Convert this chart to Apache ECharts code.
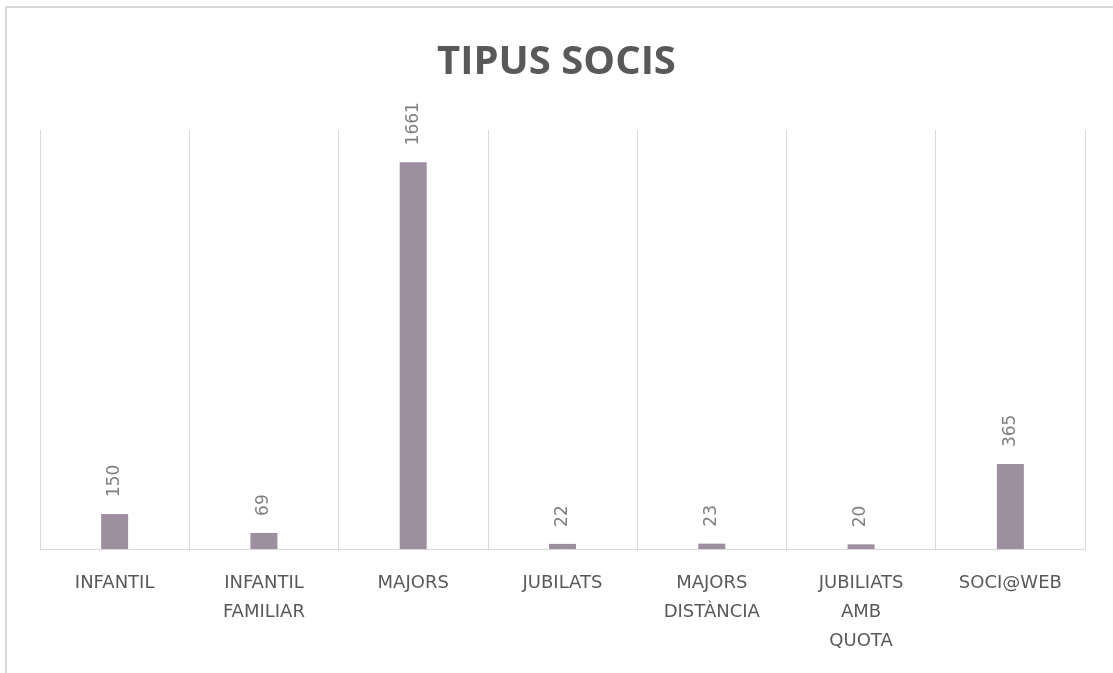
<!DOCTYPE html>
<html>
<head>
<meta charset="utf-8">
<title>TIPUS SOCIS</title>
<script src="https://cdn.jsdelivr.net/npm/echarts@6/dist/echarts.min.js"></script>
<style>
  html, body { margin: 0; padding: 0; background: #fff; }
  #chart { width: 1113px; height: 673px; }
</style>
</head>
<body>
<div id="chart"></div>
<script>
// dades del gràfic
const categories = ["INFANTIL", "INFANTIL FAMILIAR", "MAJORS", "JUBILATS", "MAJORS DISTÀNCIA", "JUBILIATS AMB QUOTA", "SOCI@WEB"];
const socis = [150, 69, 1661, 22, 23, 20, 365];

let myChart = echarts.init(document.getElementById("chart"));
let option = {
  animation: false,
  title: {
    text: "TIPUS SOCIS",
    left: "center",
    top: 38,
    textStyle: {
      fontFamily: "Open Sans",
      fontSize: 40,
      fontWeight: "bold",
      color: "#595959"
    }
  },
  graphic: [
    {
      type: "rect",
      shape: { x: 6, y: 7, width: 1130, height: 700 },
      style: { fill: "none", stroke: "#d9d9d9", lineWidth: 2 },
      silent: true
    }
  ],
  grid: { left: 40, right: 28, top: 130, bottom: 124 },
  xAxis: {
    type: "category",
    data: categories,
    axisLine: { lineStyle: { color: "#d9d9d9", width: 1 } },
    axisTick: { show: false },
    splitLine: { show: true, lineStyle: { color: "#d9d9d9", width: 1 } },
    axisLabel: {
      interval: 0,
      margin: 20,
      fontFamily: "DejaVu Sans",
      fontSize: 18,
      lineHeight: 29,
      color: "#595959",
      formatter: function (v) {
        return v.split(" ").join("\n");
      }
    }
  },
  yAxis: {
    type: "value",
    min: 0,
    max: 1800,
    show: false,
    splitLine: { show: false }
  },
  series: [
    {
      name: "Socis",
      type: "bar",
      data: socis,
      barWidth: 27,
      itemStyle: { color: "#9d8ea0" },
      label: {
        show: true,
        position: "top",
        rotate: 90,
        align: "left",
        verticalAlign: "middle",
        distance: 17,
        fontFamily: "DejaVu Sans",
        fontSize: 17,
        color: "#7f7f7f"
      }
    }
  ]
};
myChart.setOption(option);
</script>
</body>
</html>
